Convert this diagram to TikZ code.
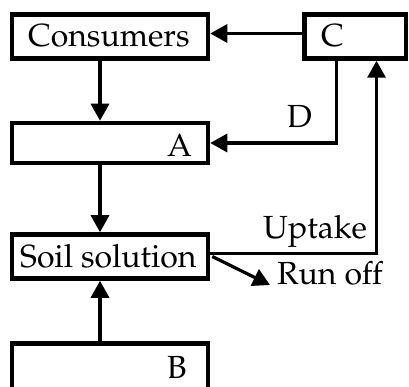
\documentclass[tikz,border=0pt]{standalone}
\usepackage[T1]{fontenc}
\usepackage{mathpazo}
\usetikzlibrary{arrows.meta}
\begin{document}
\begin{tikzpicture}[x=1pt,y=-1pt,
  box/.style={draw,line width=4.5pt,minimum width=196pt,minimum height=44pt,inner sep=0pt},
  lbl/.style={inner sep=0pt,anchor=base west,font=\fontsize{32}{38}\selectfont},
  link/.style={line width=3.2pt,-{Triangle[length=17pt,width=18pt]}}]
\clip (0,0) rectangle (409,387);
\useasboundingbox (0,0) rectangle (409,387);
% boxes
\node[box] (cons) at (110,36.5) {};
\node[box,minimum width=101.5pt] (c) at (355.25,36.5) {};
\node[box,minimum height=40pt] (a) at (110,143) {};
\node[box] (soil) at (110,256.5) {};
\node[box,minimum height=60pt] (b) at (110,373.5) {};
% labels
\node[lbl] (tcons) at (28,47) {Consumers};
\node[lbl] (tc) at (321,47) {C};
\node[lbl] (ta) at (167,157) {A};
\node[lbl] (td) at (287,128) {D};
\node[lbl] (tup) at (263,238) {Uptake};
\node[lbl] (tro) at (277,284) {Run off};
\node[lbl] (tsoil) at (20,267) {Soil solution};
\node[lbl] (tb) at (167,378) {B};
% connector helpers
\coordinate (rotip) at (270,285);
% connectors
\draw[link] ([yshift=3pt]c.west) -- ([yshift=3pt]cons.east);
\draw[link] ([xshift=-10pt]cons.south) -- ([xshift=-10pt]a.north);
\draw[link] ([xshift=-10pt]a.south) -- ([xshift=-10pt]soil.north);
\draw[link] ([xshift=-10pt]b.north) -- ([xshift=-10pt]soil.south);
\draw[link] ([xshift=-18.75pt]c.south) |- (a.east);
\draw[link] ([yshift=3pt]soil.east) -| ([xshift=21.25pt]c.south);
\draw[link] ([xshift=2pt]soil.east) -- (rotip);
\end{tikzpicture}
\end{document}
